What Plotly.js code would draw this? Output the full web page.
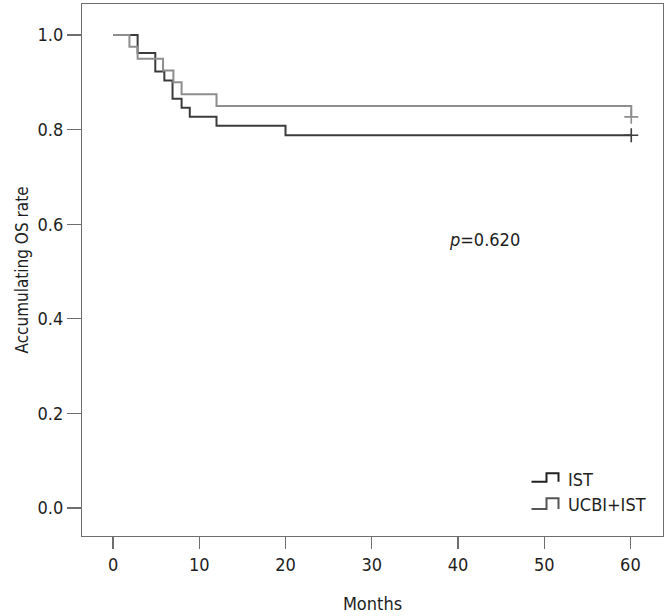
<!DOCTYPE html>
<html>
<head>
<meta charset="utf-8">
<script src="https://cdn.plot.ly/plotly-3.0.1.min.js"></script>
<style>html,body{margin:0;padding:0;background:#fff;}#chart{width:668px;height:616px;}</style>
</head>
<body>
<div id="chart"></div>
<script>
// Kaplan-Meier step data (months, survival)
const istMonths = [0, 2.85, 4.9, 5.95, 6.9, 7.95, 8.9, 12.0, 20.0, 60.1];
const istRate   = [1.0, 0.962, 0.923, 0.904, 0.865, 0.846, 0.827, 0.808, 0.788, 0.788];
const ucbiMonths = [0, 1.9, 2.85, 5.8, 7.0, 7.95, 12.0, 60.1];
const ucbiRate   = [1.0, 0.975, 0.95, 0.925, 0.9, 0.875, 0.85, 0.825];
// censor marks
const istCensorMonths = [60.1];
const istCensorRate = [0.788];
const ucbiCensorMonths = [60.1];
const ucbiCensorRate = [0.827];
const xTicks = [0, 10, 20, 30, 40, 50, 60];
const yTicks = [0, 0.2, 0.4, 0.6, 0.8, 1.0];
const yTickLabels = ["0.0", "0.2", "0.4", "0.6", "0.8", "1.0"];
const seriesNames = ["IST", "UCBI+IST"];
const pText = "<i>p</i>=0.620";

const FONT = '"DejaVu Sans Condensed", "Liberation Sans Narrow", Roboto, sans-serif';
const DARK = '#3c3c3c', LIGHT = '#8e8e8e', AXIS = '#6e6e6e', TXT = '#1e1e1e';

const traces = [
  {x: istMonths, y: istRate, mode: 'lines', line: {shape: 'hv', color: DARK, width: 2}, name: seriesNames[0]},
  {x: ucbiMonths, y: ucbiRate, mode: 'lines', line: {shape: 'hv', color: LIGHT, width: 2}, name: seriesNames[1]},
  {x: istCensorMonths, y: istCensorRate, mode: 'markers', marker: {symbol: 'cross-thin-open', size: 10, color: DARK, line: {color: DARK, width: 1.6}}, showlegend: false},
  {x: ucbiCensorMonths, y: ucbiCensorRate, mode: 'markers', marker: {symbol: 'cross-thin-open', size: 10, color: LIGHT, line: {color: LIGHT, width: 1.6}}, showlegend: false}
];

// plot area in pixels: left 82, right 663, top 4, bottom 536
const PW = 581, PH = 532, PB = 536, PL = 82;
const px = v => (v - PL) / PW;
const py = v => (PB - v) / PH;
function glyph(lowY, topY, color) {
  const x0 = px(531.5), x1 = px(546.5), x2 = px(558.5);
  const y0 = py(lowY), y1 = py(topY);
  return {type: 'path', xref: 'paper', yref: 'paper',
    path: `M ${x0} ${y0} L ${x1} ${y0} L ${x1} ${y1} L ${x2} ${y1} L ${x2} ${y0}`,
    line: {color: color, width: 2}};
}

const layout = {
  width: 668, height: 616,
  margin: {l: 82, r: 5, t: 4, b: 80},
  paper_bgcolor: '#fff', plot_bgcolor: '#fff',
  font: {family: FONT, size: 17, color: TXT},
  showlegend: false,
  xaxis: {
    range: [-3.6, 63.78], tickvals: xTicks, ticks: 'outside', ticklen: 12, tickcolor: AXIS, tickwidth: 1.2,
    showline: true, linecolor: AXIS, linewidth: 1.2, mirror: true, showgrid: false, zeroline: false,
    tickfont: {family: FONT, size: 18, color: TXT},
    title: {text: 'Months', font: {family: FONT, size: 18, color: TXT}, standoff: 23}
  },
  yaxis: {
    range: [(508 - 536) / 473, 1 + (35 - 4) / 473], tickvals: yTicks, ticktext: yTickLabels, ticks: 'outside', ticklen: 14, tickcolor: AXIS, tickwidth: 1.2,
    showline: true, linecolor: AXIS, linewidth: 1.2, mirror: true, showgrid: false, zeroline: false,
    tickfont: {family: FONT, size: 18, color: TXT},
    title: {text: 'Accumulating OS rate', font: {family: FONT, size: 17, color: TXT}, standoff: 4}
  },
  annotations: [
    {x: 43.1, y: 0.567, xref: 'x', yref: 'y', text: pText, showarrow: false, font: {family: FONT, size: 18, color: TXT}},
    {x: px(566), y: py(479), xref: 'paper', yref: 'paper', xanchor: 'left', yanchor: 'middle', text: seriesNames[0], showarrow: false, font: {family: FONT, size: 18, color: TXT}},
    {x: px(566), y: py(504), xref: 'paper', yref: 'paper', xanchor: 'left', yanchor: 'middle', text: seriesNames[1], showarrow: false, font: {family: FONT, size: 18, color: TXT}}
  ],
  shapes: [glyph(481.7, 473.3, '#222'), glyph(509, 498.3, '#555')]
};

Plotly.newPlot('chart', traces, layout, {displayModeBar: false, staticPlot: true});
</script>
</body>
</html>
